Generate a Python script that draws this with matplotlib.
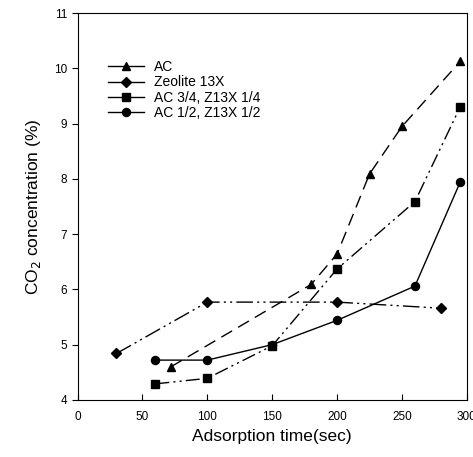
import matplotlib
matplotlib.use("Agg")
import matplotlib.pyplot as plt

plt.rcParams['font.family'] = ['Liberation Sans', 'DejaVu Sans']

ac_x = [72, 180, 200, 225, 250, 295]
ac_y = [4.60, 6.09, 6.64, 8.09, 8.95, 10.13]
zeo_x = [30, 100, 200, 280]
zeo_y = [4.84, 5.77, 5.77, 5.66]
ac34_x = [60, 100, 150, 200, 260, 295]
ac34_y = [4.29, 4.39, 4.98, 6.37, 7.59, 9.31]
ac12_x = [60, 100, 150, 200, 260, 295]
ac12_y = [4.72, 4.72, 5.00, 5.44, 6.06, 7.95]

xticks = [0, 50, 100, 150, 200, 250, 300]
yticks = [4, 5, 6, 7, 8, 9, 10, 11]

fig = plt.figure(figsize=(4.73, 4.57), dpi=100)
ax = fig.add_axes([0.164, 0.125, 0.823, 0.846])

ax.plot(ac_x, ac_y, color='black', lw=1.0, marker='^', ms=6,
        dashes=(9, 5), label='AC')
ax.plot(zeo_x, zeo_y, color='black', lw=1.0, marker='D', ms=5,
        dashes=(12, 3, 1.5, 3, 1.5, 3), label='Zeolite 13X')
ax.plot(ac34_x, ac34_y, color='black', lw=1.0, marker='s', ms=5.5,
        dashes=(10, 3, 1.5, 3, 1.5, 3), label='AC 3/4, Z13X 1/4')
ax.plot(ac12_x, ac12_y, color='black', lw=1.0, marker='o', ms=5.8,
        linestyle='-', label='AC 1/2, Z13X 1/2')

ax.set_xlim(0, 300)
ax.set_ylim(4, 11)
ax.set_xticks(xticks)
ax.set_yticks(yticks)
ax.tick_params(axis='x', direction='in', length=4, labelsize=8.5, pad=8)
ax.tick_params(axis='y', direction='out', length=4, labelsize=8.5)
for s in ax.spines.values():
    s.set_linewidth(0.8)

ax.set_xlabel('Adsorption time(sec)', fontsize=12.5, labelpad=4)
ax.set_ylabel('CO$_2$ concentration (%)', fontsize=12.5, labelpad=8)

leg = ax.legend(loc='upper left', bbox_to_anchor=(0.06, 0.897), frameon=False,
                fontsize=10, handlelength=2.6, handletextpad=0.75,
                labelspacing=0.1, borderpad=0)
for ln in leg.get_lines():
    ln.set_linestyle('-')

fig.savefig('out.png', dpi=100)
